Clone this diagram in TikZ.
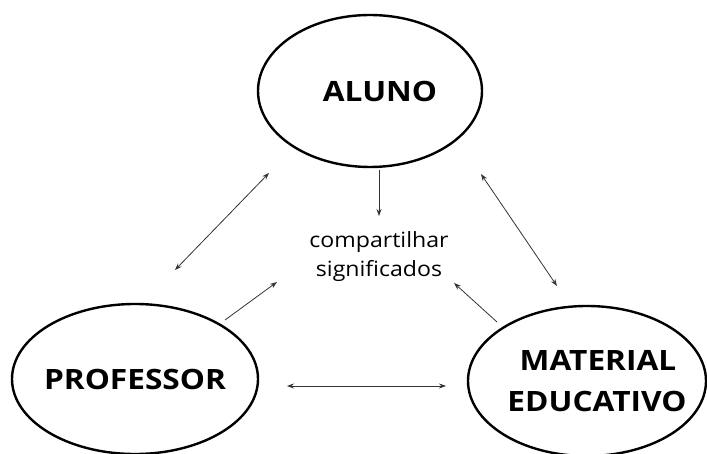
\documentclass[tikz,border=0pt]{standalone}
\usepackage{fontspec}
\setmainfont{Open Sans}
\usetikzlibrary{shapes.geometric,arrows.meta}
% horizontally widened text; labels are zero width so the ellipses keep their size
\newcommand{\widelbl}[2][0pt]{\makebox[0pt]{\hspace*{#1}\scalebox{1.13}[1]{#2}}}
\newcommand{\widetxt}[1]{\scalebox{1.1}[1]{#1}}
\begin{document}
\begin{tikzpicture}[x=1pt,y=-1pt,
  actor/.style={draw,ellipse,line width=2.4pt,inner sep=0pt,
    font=\fontsize{28}{41}\selectfont\bfseries,align=center},
  link/.style={line width=0.8pt,draw=black!80,-{Stealth[length=7pt,width=5pt]}},
  both/.style={link,{Stealth[length=7pt,width=5pt]}-{Stealth[length=7pt,width=5pt]}}]
\useasboundingbox (0,0) rectangle (707,454);
\node[actor,minimum width=224pt,minimum height=152pt] (aluno) at (370,91) {\widelbl[20pt]{ALUNO}};
\node[actor,minimum width=246pt,minimum height=150pt] (prof) at (135,379) {\widelbl{PROFESSOR}};
\node[actor,minimum width=238pt,minimum height=150pt] (mat) at (587,381)
  {\widelbl[22pt]{MATERIAL}\\\widelbl[20pt]{EDUCATIVO}};
\node[font=\fontsize{21}{29}\selectfont,align=center] (share) at (379,257)
  {\widetxt{compartilhar}\\\widetxt{significados}};
% end points of the connectors
\coordinate (a0) at (379,170); \coordinate (s0) at (379,216);
\coordinate (a1) at (269,173); \coordinate (p1) at (175,270);
\coordinate (a2) at (481,174); \coordinate (m1) at (557,286);
\coordinate (p2) at (287,386); \coordinate (m2) at (446,386);
\coordinate (p3) at (225,320); \coordinate (s1) at (277,282);
\coordinate (m3) at (497,322); \coordinate (s2) at (454,283);
\draw[link] (a0) -- (s0);
\draw[both] (a1) -- (p1);
\draw[both] (a2) -- (m1);
\draw[both] (p2) -- (m2);
\draw[link] (p3) -- (s1);
\draw[link] (m3) -- (s2);
\end{tikzpicture}
\end{document}
